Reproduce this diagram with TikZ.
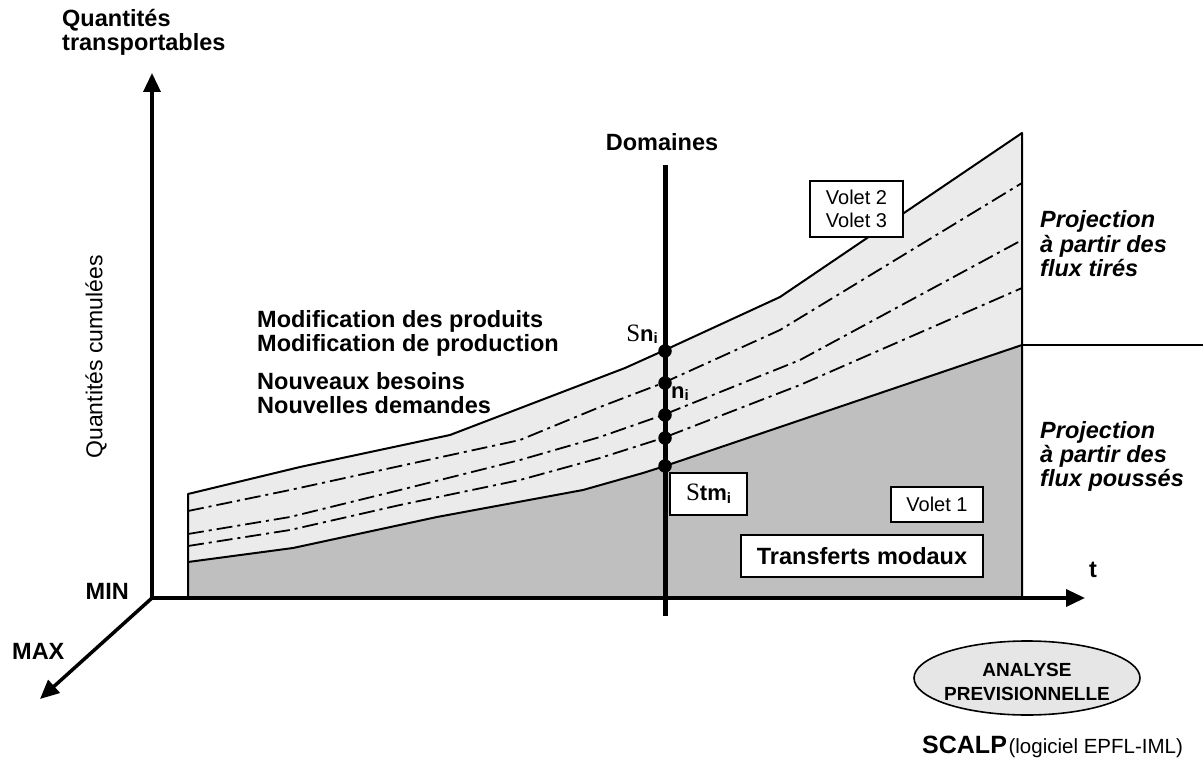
\documentclass[tikz,border=0pt]{standalone}
\usepackage{fontspec}
\setmainfont{Liberation Sans}
\newfontfamily\serifS{Liberation Serif}
\usetikzlibrary{arrows.meta,shapes.geometric}

\definecolor{lowgray}{RGB}{191,191,191}
\definecolor{highgray}{RGB}{235,235,235}
\definecolor{ovalgray}{RGB}{230,230,230}

\newcommand\bigbold{\fontsize{23.5}{21.5}\selectfont\bfseries}
\newcommand\smallreg{\fontsize{20}{23}\selectfont}
\newcommand\subi{\raisebox{-0.28em}{\fontsize{15}{15}\selectfont\bfseries i}}
\newcommand\stack[1]{\begin{tabular}[t]{@{}l@{}}#1\end{tabular}}

\tikzset{
  axis/.style={line width=3.5pt,-{Triangle[length=19pt,width=17pt]}},
  region/.style={line width=2pt,line join=round},
  dashdot/.style={line width=1.8pt,dash pattern=on 16pt off 5pt on 3pt off 5pt},
  dot/.style={circle,fill=black,inner sep=0pt,minimum size=13.5pt},
  txt/.style={inner sep=0pt},
  tag/.style={draw,line width=2pt,fill=white,inner sep=0pt,align=center},
}

\begin{document}
\begin{tikzpicture}[x=1pt,y=-1pt]
\useasboundingbox (0,0) rectangle (1203,765);

% light band (upper forecast envelope)
\fill[highgray] (188,598) -- (188,494) -- (300,467) -- (450,435) -- (625,368)
  -- (665,350) -- (780,297) -- (1022,133) -- (1022,598) -- cycle;
% dark band (modal transfers)
\fill[lowgray] (188,598) -- (188,562) -- (293,548) -- (437,517) -- (583,490)
  -- (643,473) -- (665,466) -- (1022,345) -- (1022,598) -- cycle;

% outlines
\draw[region] (188,598) -- (188,494) -- (300,467) -- (450,435) -- (625,368)
  -- (665,350) -- (780,297) -- (1022,133) -- (1022,598);
\draw[region] (188,562) -- (293,548) -- (437,517) -- (583,490)
  -- (643,473) -- (665,466) -- (1022,345);
\draw[line width=1.8pt] (1022,345) -- (1203,345);

% intermediate scenarios
\draw[dashdot] (188,511) -- (290,490) -- (400,466) -- (520,440) -- (600,407)
  -- (663,383) -- (780,330) -- (1022,183);
\draw[dashdot] (188,534) -- (290,517) -- (400,490) -- (520,460) -- (600,437)
  -- (663,415) -- (800,360) -- (1022,240);
\draw[dashdot] (188,546) -- (290,530) -- (400,505) -- (520,480) -- (600,458)
  -- (663,438) -- (800,385) -- (1022,288);

% axes
\coordinate (O) at (152,598);
\coordinate (ytip) at (152,73);
\coordinate (xtip) at (1085,598);
\coordinate (ztip) at (40,699);
\draw[axis] (O) -- (ytip);
\draw[axis] (O) -- (xtip);
\draw[axis] (O) -- (ztip);

% domain line
\coordinate (dtop) at (665,165);
\coordinate (dbot) at (665,616);
\draw[line width=5pt] (dtop) -- (dbot);

\node[dot] (d1) at (665,351) {};
\node[dot] (d2) at (665,383) {};
\node[dot] (d3) at (665,415) {};
\node[dot] (d4) at (665,438) {};
\node[dot] (d5) at (665,466) {};

% labels
\node[txt,anchor=base west] (qt) at (62,27)
  {\bigbold\stack{Quantités\\transportables}};
\node[txt,rotate=90] (qc) at (96,357) {\fontsize{23}{23}\selectfont Quantités cumulées};
\node[txt,anchor=base east] (min) at (129,599) {\bigbold MIN};
\node[txt,anchor=base west] (max) at (12,659) {\bigbold MAX};
\node[txt,anchor=base west] (t) at (1089,577) {\bigbold t};
\node[txt,anchor=base] (dom) at (662,151) {\bigbold Domaines};

\node[txt,anchor=base west] (modif) at (257,327)
  {\fontsize{23.5}{24}\selectfont\bfseries\stack{Modification des produits\\Modification de production}};
\node[txt,anchor=base west] (nouv) at (257,389)
  {\fontsize{23.5}{24}\selectfont\bfseries\stack{Nouveaux besoins\\Nouvelles demandes}};

\node[txt,anchor=base west] (proj1) at (1040,228)
  {\fontsize{23.5}{23}\selectfont\bfseries\itshape\stack{Projection\\à partir des\\flux tirés}};
\node[txt,anchor=base west] (proj2) at (1040,438)
  {\fontsize{23.5}{23}\selectfont\bfseries\itshape\stack{Projection\\à partir des\\flux poussés}};

\node[txt,anchor=base east] (sn) at (658,341)
  {{\serifS\fontsize{25}{25}\selectfont S}{\fontsize{22}{22}\selectfont\bfseries n}\subi};
\node[txt,anchor=base west] (ni) at (671,398)
  {{\fontsize{22}{22}\selectfont\bfseries n}\subi};

\node[tag,minimum width=77pt,minimum height=42pt] (stm) at (708.5,494)
  {{\serifS\fontsize{25}{25}\selectfont S}{\fontsize{22}{22}\selectfont\bfseries tm}\subi};
\node[tag,minimum width=93pt,minimum height=56pt,font=\smallreg] (v23) at (856.5,209)
  {Volet 2\\Volet 3};
\node[tag,minimum width=92pt,minimum height=35pt,font=\smallreg] (v1) at (937,504.5)
  {Volet 1};
\node[tag,minimum width=242pt,minimum height=42pt,font=\fontsize{23.5}{23}\selectfont\bfseries] (tm) at (862,556)
  {Transferts modaux};

% forecast badge
\coordinate (ana) at (1027,678);
\draw[line width=1.6pt,fill=ovalgray] (ana) ellipse [x radius=113pt, y radius=37pt];
\node[txt,align=center,font=\fontsize{19}{23.5}\selectfont\bfseries] (anatxt) at (1027,682)
  {ANALYSE\\PREVISIONNELLE};

\node[txt,anchor=base west] (scalp) at (922,753)
  {{\fontsize{25}{25}\selectfont\bfseries SCALP}\,{\fontsize{20.5}{20}\selectfont(logiciel EPFL-IML)}};
\end{tikzpicture}
\end{document}
